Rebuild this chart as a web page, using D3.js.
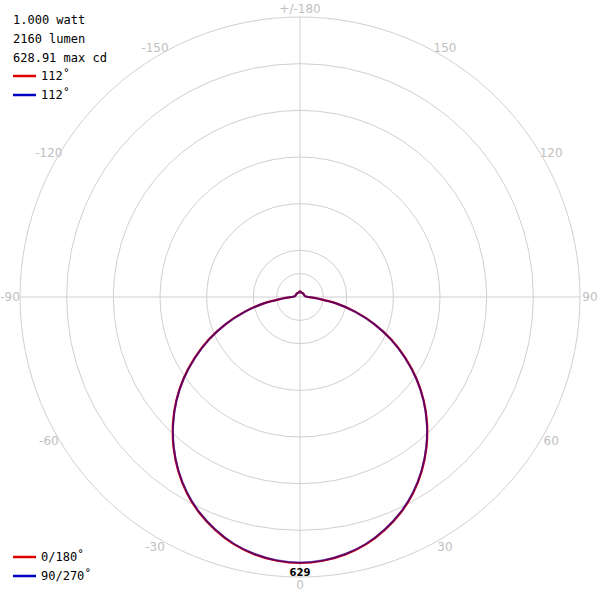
<!DOCTYPE html>
<html><head><meta charset="utf-8">
<script src="https://cdn.jsdelivr.net/npm/d3@7"></script>
<style>body{margin:0;background:#fff}</style>
</head><body><div id="chart"></div>
<script>
// angles from nadir (deg), candela
const angles = [0,5,10,15,20,25,30,35,40,45,50,55,60,65,70,75,80,85,90,95,100,110,120,130,140,150,160,170,175,180];
const cd0 = [629,626,618,605,586,563,535,502,465,425,382,336,287,238,187,136,87,42,20,14,12,11,11,11,11,11,11,11,13,13];
const cd90 = [628,625,617,604,585,562,534,501,464,424,381,335,286,237,186,135,86,41,20,14,12,11,11,11,11,11,11,11,13,13];
const rings = [0.5,1,2,3,4,5,6];
const angleLabels = [0,30,60,90,120,150,180,-30,-60,-90,-120,-150];
const infoLines = ["1.000 watt","2160 lumen","628.91 max cd"];

const W = 600, H = 600, cx = 300, cy = 297, R = 280;
const svg = d3.select("#chart").append("svg").attr("width", W).attr("height", H);
const g = svg.append("g").attr("transform", `translate(${cx},${cy})`);

const r = d3.scaleLinear().domain([0, 629]).range([0, 266]);
const unit = R / 6;

g.selectAll("circle.ring").data(rings).enter().append("circle")
  .attr("r", d => d * unit).attr("fill", "none").attr("stroke", "#d0d0d0");
g.append("line").attr("x1", -R).attr("x2", R).attr("stroke", "#d0d0d0");
g.append("line").attr("y1", -R).attr("y2", R).attr("stroke", "#d0d0d0");

g.selectAll("text.al").data(angleLabels).enter().append("text")
  .attr("x", d => 290 * Math.sin(d * Math.PI / 180))
  .attr("y", d => 288 * Math.cos(d * Math.PI / 180))
  .attr("dy", "0.35em").attr("text-anchor", "middle")
  .style("font-family", "DejaVu Sans").style("font-size", "12px").attr("fill", "#c0c0c0")
  .text(d => d === 180 ? "+/-180" : d === 0 ? "0" : (d < 0 ? "-" : "") + Math.abs(d));

// full curve: mirror angles to both sides
function pts(vals) {
  const right = angles.map((a, i) => [a, vals[i]]);
  const left = angles.slice().reverse().map((a, i) => [-a, vals[vals.length - 1 - i]]);
  return left.concat(right.slice(1));
}
const line = d3.line()
  .x(d => r(d[1]) * Math.sin(d[0] * Math.PI / 180))
  .y(d => r(d[1]) * Math.cos(d[0] * Math.PI / 180))
  .curve(d3.curveCardinal);

g.append("path").attr("d", line(pts(cd0))).attr("fill", "none").attr("stroke", "#e00000").attr("stroke-width", 2.2);
g.append("path").attr("d", line(pts(cd90))).attr("fill", "none").attr("stroke", "#0000b0").attr("stroke-width", 2).attr("opacity", 0.55);

g.append("text").attr("x", 0).attr("y", 279).attr("text-anchor", "middle")
  .style("font-family", "DejaVu Sans").style("font-size", "10px").style("font-weight", "bold").text("629");

const mono = "DejaVu Sans Mono";
svg.selectAll("text.info").data(infoLines).enter().append("text")
  .attr("x", 13).attr("y", (d, i) => 24 + i * 19)
  .style("font-family", mono).style("font-size", "12px").text(d => d);

function legend(items, y0) {
  items.forEach((it, i) => {
    const y = y0 + i * 19;
    svg.append("line").attr("x1", 13).attr("x2", 36).attr("y1", y).attr("y2", y).attr("stroke", it[1]).attr("stroke-width", 2.5);
    svg.append("text").attr("x", 41).attr("y", y + 4).style("font-family", mono).style("font-size", "12px").text(it[0]);
  });
}
legend([["112˚", "#e00000"], ["112˚", "#0000c0"]], 76);
legend([["0/180˚", "#e00000"], ["90/270˚", "#0000c0"]], 557);
</script></body></html>
